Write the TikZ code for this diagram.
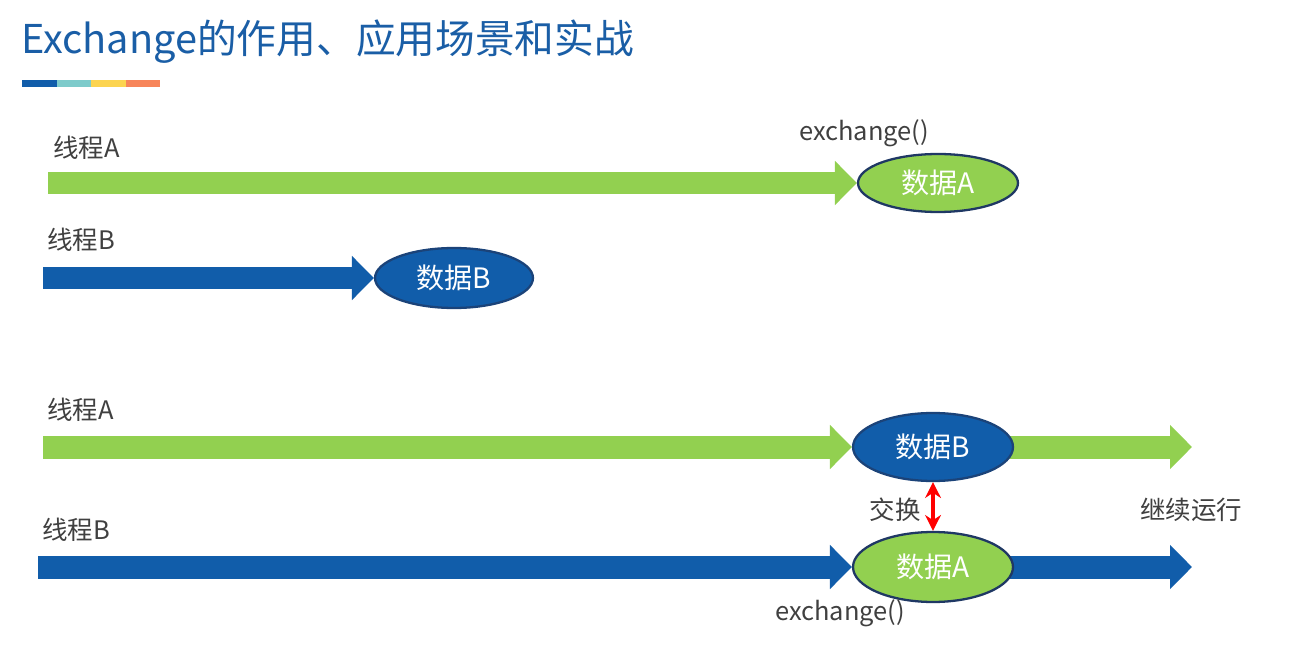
\documentclass[tikz,border=0pt]{standalone}
\usepackage{fontspec}
\setmainfont{Noto Sans CJK SC}
\usetikzlibrary{arrows.meta,shapes.geometric}
\definecolor{tgreen}{RGB}{146,208,80}
\definecolor{tblue}{RGB}{17,93,170}
\definecolor{navy}{RGB}{31,56,100}
\definecolor{titleblue}{RGB}{26,94,166}
\definecolor{bteal}{RGB}{126,203,203}
\definecolor{byellow}{RGB}{252,212,80}
\definecolor{borange}{RGB}{247,133,90}
\definecolor{lblgray}{RGB}{64,64,64}
\pgfdeclarelayer{bg}
\pgfdeclarelayer{paper}
\pgfsetlayers{paper,bg,main}
\begin{document}
\begin{tikzpicture}[x=0.02cm,y=-0.02cm,
  garrow/.style={draw=tgreen, line width=0.46cm, -{Triangle[length=0.44cm,width=0.86cm]}},
  barrow/.style={draw=tblue, line width=0.46cm, -{Triangle[length=0.44cm,width=0.86cm]}},
  ellbase/.style={ellipse, line width=1.3pt, inner sep=0pt, text=white, minimum width=3.2cm, font=\fontsize{16}{18}\selectfont},
  gell/.style={ellbase, fill=tgreen, draw=navy},
  bell/.style={ellbase, fill=tblue, draw=navy!70!tblue},
  lbl/.style={text=lblgray, font=\fontsize{14.5}{17}\selectfont, inner sep=0pt},
  swap/.style={draw=red, line width=2pt, {Stealth[length=9pt,width=9pt]}-{Stealth[length=9pt,width=9pt]}}
]
\begin{pgfonlayer}{paper}
\fill[white] (0,0) rectangle (1291,655);
\end{pgfonlayer}
\useasboundingbox (0,0) rectangle (1291,655);
% title
\node[anchor=west, inner sep=0pt, text=titleblue, font=\fontsize{22.6}{26}\selectfont] (title) at (21,42) {Exchange的作用、应用场景和实战};
\fill[tblue] (22,80) rectangle (57,87);
\fill[bteal] (57,80) rectangle (91,87);
\fill[byellow] (91,80) rectangle (126,87);
\fill[borange] (126,80) rectangle (160,87);

% row 1
\node[lbl, anchor=west] (la1) at (53,148) {线程A};
\node[lbl] (ex1) at (864,133) {exchange()};
\node[gell, minimum height=1.16cm] (d1) at (938,183) {数据A};
\coordinate (a1s) at (48,183);
\draw[garrow] (a1s) -- (d1.west);

% row 2
\node[lbl, anchor=west] (lb1) at (47,240) {线程B};
\node[bell, minimum width=3.16cm, minimum height=1.2cm] (d2) at (454,278) {数据B};
\coordinate (b1s) at (43,278);
\draw[barrow] (b1s) -- (d2.west);

% row 3
\node[lbl, anchor=west] (la2) at (47,410) {线程A};
\node[bell, minimum height=1.36cm] (d3) at (933,447) {数据B};
\coordinate (a2s) at (43,447);
\coordinate (a2e) at (1192,447);
\draw[garrow] (a2s) -- (d3.west);
\begin{pgfonlayer}{bg}
\draw[garrow] (d3.center) -- (a2e);
\end{pgfonlayer}

% row 4
\node[lbl, anchor=west] (lb2) at (42,530) {线程B};
\node[gell, minimum height=1.4cm] (d4) at (933,567) {数据A};
\coordinate (b2s) at (38,567);
\coordinate (b2e) at (1192,567);
\draw[barrow] (b2s) -- (d4.west);
\begin{pgfonlayer}{bg}
\draw[barrow] (d4.center) -- (b2e);
\end{pgfonlayer}
\node[lbl] (ex2) at (840,613) {exchange()};

% exchange
\draw[swap] (d3.south) -- (d4.north);
\node[lbl] (swp) at (895,510) {交换};
\node[lbl] (cont) at (1191,510) {继续运行};
\end{tikzpicture}
\end{document}
